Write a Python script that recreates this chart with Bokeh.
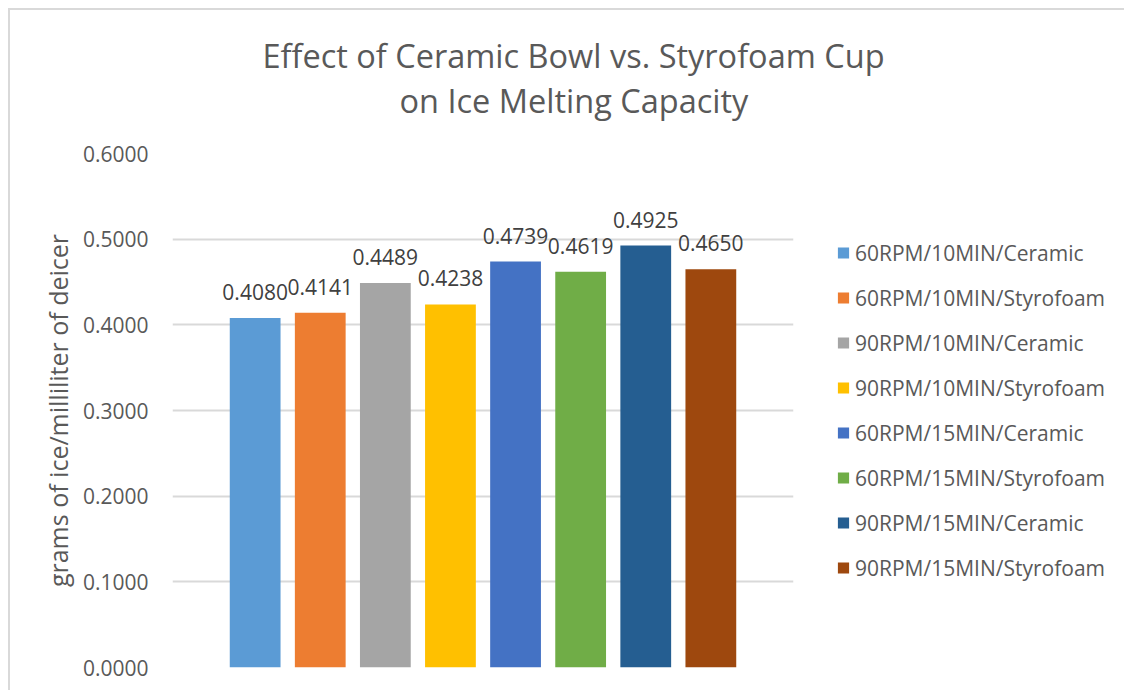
from bokeh.plotting import figure
from bokeh.models import (ColumnDataSource, FactorRange, LabelSet, Title, Legend,
                          LegendItem, FixedTicker, NumeralTickFormatter, Range1d)
from bokeh.core.properties import value
from bokeh.embed import file_html
from bokeh.resources import INLINE

series = ["60RPM/10MIN/Ceramic", "60RPM/10MIN/Styrofoam", "90RPM/10MIN/Ceramic",
          "90RPM/10MIN/Styrofoam", "60RPM/15MIN/Ceramic", "60RPM/15MIN/Styrofoam",
          "90RPM/15MIN/Ceramic", "90RPM/15MIN/Styrofoam"]
values = [0.4080, 0.4141, 0.4489, 0.4238, 0.4739, 0.4619, 0.4925, 0.4650]
colors = ["#5B9BD5", "#ED7D31", "#A5A5A5", "#FFC000", "#4472C4", "#70AD47",
          "#255E91", "#9E480E"]
y_ticks = [0.0, 0.1, 0.2, 0.3, 0.4, 0.5, 0.6]
title_lines = ["Effect of Ceramic Bowl vs. Styrofoam Cup", "on Ice Melting Capacity"]
y_label = "grams of ice/milliliter of deicer"

FONT = "Open Sans"
TXT = "#595959"

p = figure(x_range=FactorRange(factors=series, range_padding=0.1924),
           y_range=Range1d(0, 0.6),
           frame_width=621, frame_height=514,
           min_border_left=162, min_border_right=329,
           min_border_top=143, min_border_bottom=23,
           output_backend="svg", toolbar_location=None, title=None)
p.styles = {"margin-top": "8px", "margin-left": "8px",
            "border-top": "2px solid #d9d9d9", "border-left": "2px solid #d9d9d9"}
p.outline_line_color = None
p.xaxis.visible = False
p.xgrid.grid_line_color = None
p.ygrid.grid_line_color = "#d9d9d9"
p.ygrid.grid_line_width = 2

ya = p.yaxis[0]
ya.ticker = FixedTicker(ticks=y_ticks)
ya.formatter = NumeralTickFormatter(format="0.0000")
ya.axis_line_color = None
ya.major_tick_line_color = None
ya.minor_tick_line_color = None
ya.major_label_standoff = 18
ya.major_label_text_font = FONT
ya.major_label_text_font_size = "21px"
ya.major_label_text_color = TXT
ya.axis_label = y_label
ya.axis_label_text_font = FONT
ya.axis_label_text_font_size = "25px"
ya.axis_label_text_font_style = "normal"
ya.axis_label_text_color = TXT
ya.axis_label_standoff = 5

items = []
for s, v, c in zip(series, values, colors):
    r = p.vbar(x=[s], top=[v], width=0.78, fill_color=c, line_color=None)
    items.append(LegendItem(label=s, renderers=[r]))

src = ColumnDataSource(dict(x=series, top=values, label=[f"{v:.4f}" for v in values]))
p.add_layout(LabelSet(x="x", y="top", text="label", source=src, text_align="center",
                      text_baseline="bottom", y_offset=18, text_font=value(FONT),
                      text_font_size=value("21px"), text_color="#404040"))

legend = Legend(items=items, location="center_left", margin=43, padding=0,
                glyph_width=14, glyph_height=14, label_standoff=5,
                label_height=30, spacing=15,
                border_line_color=None, background_fill_alpha=0,
                label_text_font=FONT, label_text_font_size="21px",
                label_text_color=TXT)
p.add_layout(legend, "right")

# spacer between title block and plot area, then the two title lines
p.add_layout(Title(text=" ", text_font_size="27px", standoff=0), "above")
title_offsets = [90, 227]
for line, off in reversed(list(zip(title_lines, title_offsets))):
    p.add_layout(Title(text=line, align="left", offset=off, standoff=-2.5,
                       text_font=FONT, text_font_size="32.5px",
                       text_font_style="normal", text_color=TXT), "above")

open("out.html", "w").write(file_html(p, INLINE))
